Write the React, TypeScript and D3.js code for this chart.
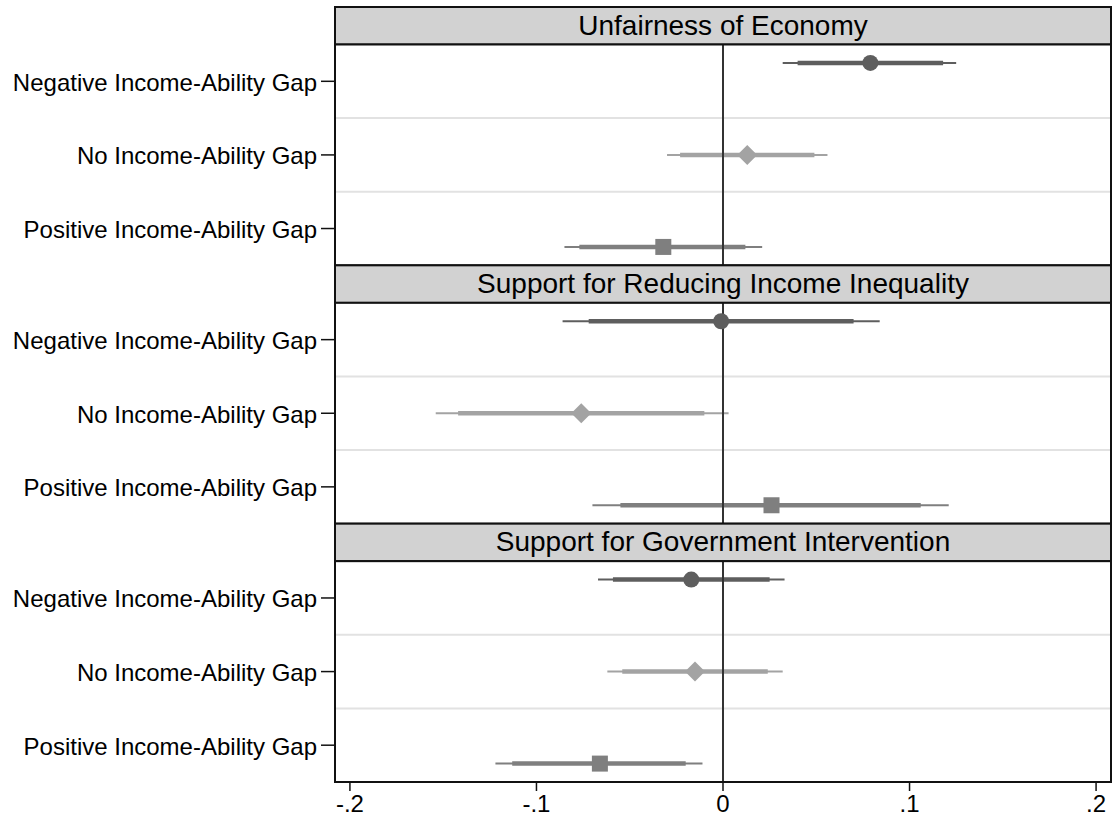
import React from "react";
import * as d3 from "d3";

// Outcome panels (top to bottom)
const outcomes = [
  "Unfairness of Economy",
  "Support for Reducing Income Inequality",
  "Support for Government Intervention",
];

// Groups shown on the y axis within each panel
const groups = [
  "Negative Income-Ability Gap",
  "No Income-Ability Gap",
  "Positive Income-Ability Gap",
];

// Point estimates, one array per outcome, ordered as `groups`
const unfairnessEst = [0.079, 0.013, -0.032];
const reducingEst = [-0.001, -0.076, 0.026];
const governmentEst = [-0.017, -0.015, -0.066];

// 95% confidence intervals
const unfairnessLo95 = [0.032, -0.030, -0.085];
const unfairnessHi95 = [0.125, 0.056, 0.021];
const reducingLo95 = [-0.086, -0.154, -0.070];
const reducingHi95 = [0.084, 0.003, 0.121];
const governmentLo95 = [-0.067, -0.062, -0.122];
const governmentHi95 = [0.033, 0.032, -0.011];

// 90% confidence intervals
const unfairnessLo90 = [0.040, -0.023, -0.077];
const unfairnessHi90 = [0.118, 0.049, 0.012];
const reducingLo90 = [-0.072, -0.142, -0.055];
const reducingHi90 = [0.070, -0.010, 0.106];
const governmentLo90 = [-0.059, -0.054, -0.113];
const governmentHi90 = [0.025, 0.024, -0.020];

// X-axis ticks
const xTicks = [-0.2, -0.1, 0, 0.1, 0.2];
const xTickLabels = ["-.2", "-.1", "0", ".1", ".2"];

const est = [unfairnessEst, reducingEst, governmentEst];
const lo95 = [unfairnessLo95, reducingLo95, governmentLo95];
const hi95 = [unfairnessHi95, reducingHi95, governmentHi95];
const lo90 = [unfairnessLo90, reducingLo90, governmentLo90];
const hi90 = [unfairnessHi90, reducingHi90, governmentHi90];

const W = 1112;
const H = 823;
const left = 335;
const right = 1111;
const top = 7;
const bottom = 782;
const headerH = 37.5;
const stride = (bottom - top) / outcomes.length;
const plotH = stride - headerH;

const groupColor = ["#5e5e5e", "#a3a3a3", "#7f7f7f"];
const groupOffset = [-0.25, 0, 0.25];
const FONT = "'Liberation Sans', Arial, Helvetica, sans-serif";

function Marker({ kind, x, y, color }: { kind: number; x: number; y: number; color: string }) {
  if (kind === 0) return <circle cx={x} cy={y} r={8} fill={color} />;
  if (kind === 1) {
    const s = 10;
    return (
      <path
        d={`M${x},${y - s}L${x + s},${y}L${x},${y + s}L${x - s},${y}Z`}
        fill={color}
      />
    );
  }
  return <rect x={x - 8} y={y - 8} width={16} height={16} fill={color} />;
}

export default function App() {
  const x = d3.scaleLinear().domain([-0.208, 0.208]).range([left, right]);

  return (
    <svg
      width={W}
      height={H}
      style={{ position: "absolute", left: 0, top: 0, background: "#fff" }}
      fontFamily={FONT}
    >
      {outcomes.map((title, p) => {
        const hTop = top + p * stride;
        const pTop = hTop + headerH;
        const pBot = pTop + plotH;
        const y = d3.scalePoint<string>().domain(groups).range([pTop, pBot]).padding(0.5);
        const step = y.step();
        return (
          <g key={title}>
            {/* header strip */}
            <rect x={left} y={hTop} width={right - left} height={headerH} fill="#d2d2d2" stroke="#111" strokeWidth={2} />
            <text x={(left + right) / 2} y={hTop + 27.5} textAnchor="middle" fontSize={28} fill="#000">
              {title}
            </text>
            {/* plot background */}
            <rect x={left} y={pTop} width={right - left} height={plotH} fill="#fff" />
            {/* separators between groups */}
            {groups.slice(1).map((g, i) => {
              const gy = pTop + step * (i + 1);
              return <line key={g} x1={left} x2={right} y1={gy} y2={gy} stroke="#e2e2e2" strokeWidth={2} />;
            })}
            {/* confidence intervals */}
            {groups.map((g, i) => {
              const cy = (y(g) as number) + groupOffset[i] * step;
              return (
                <g key={g}>
                  <line x1={x(lo95[p][i])} x2={x(hi95[p][i])} y1={cy} y2={cy} stroke={groupColor[i]} strokeWidth={2} />
                  <line x1={x(lo90[p][i])} x2={x(hi90[p][i])} y1={cy} y2={cy} stroke={groupColor[i]} strokeWidth={4.5} />
                </g>
              );
            })}
            {/* reference line at zero */}
            <line x1={x(0)} x2={x(0)} y1={pTop} y2={pBot} stroke="#333" strokeWidth={2} />
            {/* point estimates */}
            {groups.map((g, i) => {
              const cy = (y(g) as number) + groupOffset[i] * step;
              return <Marker key={g} kind={i} x={x(est[p][i])} y={cy} color={groupColor[i]} />;
            })}
            {/* y ticks and labels */}
            {groups.map((g) => {
              const ty = y(g) as number;
              return (
                <g key={g}>
                  <line x1={321} x2={left} y1={ty} y2={ty} stroke="#111" strokeWidth={1.5} />
                  <text x={317} y={ty + 9.5} textAnchor="end" fontSize={24} fill="#000">
                    {g}
                  </text>
                </g>
              );
            })}
            <rect x={left} y={pTop} width={right - left} height={plotH} fill="none" stroke="#111" strokeWidth={2} />
          </g>
        );
      })}
      {/* x axis */}
      {xTicks.map((t, i) => (
        <g key={t}>
          <line x1={x(t)} x2={x(t)} y1={bottom} y2={bottom + 9} stroke="#111" strokeWidth={1.5} />
          <text x={x(t)} y={bottom + 30} textAnchor="middle" fontSize={24} fill="#000">
            {xTickLabels[i]}
          </text>
        </g>
      ))}
    </svg>
  );
}
